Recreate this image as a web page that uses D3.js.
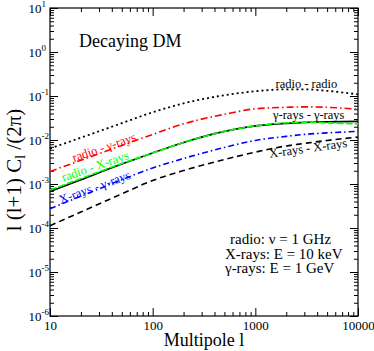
<!DOCTYPE html>
<html>
<head>
<meta charset="utf-8">
<script src="https://cdn.jsdelivr.net/npm/d3@7"></script>
<style>
body { margin: 0; background: #fff; }
svg { display: block; font-family: "Liberation Serif", "Times New Roman", serif; }
.axis path { display: none; }
.axis line { stroke: #000; }
</style>
</head>
<body>
<svg width="374" height="351"></svg>
<script>
// multipole values and the six cross-correlation spectra, l(l+1)C_l/(2pi)
var multipoles = [10, 20, 50, 100, 200, 500, 1000, 2000, 3000, 5000, 10000];
var radioRadio = [6.4e-3, 1.13e-2, 2.41e-2, 4.26e-2, 6.8e-2, 0.104, 0.128, 0.142, 0.142, 0.131, 0.109];
var radioGamma = [1.92e-3, 3.46e-3, 7.5e-3, 1.34e-2, 2.33e-2, 3.83e-2, 5.12e-2, 5.53e-2, 5.67e-2, 5.53e-2, 4.98e-2];
var gammaGamma = [6.73e-4, 1.25e-3, 2.83e-3, 5.07e-3, 8.8e-3, 1.57e-2, 2.09e-2, 2.39e-2, 2.52e-2, 2.58e-2, 2.65e-2];
var radioXray  = [7.28e-4, 1.33e-3, 2.92e-3, 5.07e-3, 8.8e-3, 1.57e-2, 2.09e-2, 2.45e-2, 2.52e-2, 2.45e-2, 2.33e-2];
var xrayGamma  = [2.75e-4, 5.28e-4, 1.25e-3, 2.31e-3, 3.8e-3, 6.78e-3, 9.77e-3, 1.21e-2, 1.34e-2, 1.45e-2, 1.57e-2];
var xrayXray   = [1.13e-4, 2.31e-4, 5.96e-4, 1.2e-3, 2.02e-3, 3.6e-3, 5.3e-3, 7.33e-3, 8.35e-3, 9.77e-3, 1.16e-2];

var xMajor = [10, 100, 1000, 10000];
var yExponents = [-6, -5, -4, -3, -2, -1, 0, 1];
var legendLines = ["radio: \u03bd = 1 GHz", "X-rays: E = 10 keV", "\u03b3-rays: E = 1 GeV"];

var svg = d3.select("svg"),
    margin = {top: 8, right: 16, bottom: 35, left: 50},
    width = 308,
    height = 308,
    g = svg.append("g").attr("transform", "translate(" + margin.left + "," + margin.top + ")");

var x = d3.scaleLog().domain([10, 10000]).range([0, width]),
    y = d3.scaleLog().domain([1e-6, 10]).range([height, 0]);

var yMajor = yExponents.map(function(e) { return Math.pow(10, e); });
var xMinor = [], yMinor = [];
[10, 100, 1000].forEach(function(d) { for (var k = 2; k < 10; k++) xMinor.push(d * k); });
yExponents.slice(0, -1).forEach(function(e) { for (var k = 2; k < 10; k++) yMinor.push(k * Math.pow(10, e)); });

var series = [
  {id: "rr", values: radioRadio, color: "#000", dash: "2,3", width: 1.8},
  {id: "rg", values: radioGamma, color: "#ff0000", dash: "7,3,1.5,3", width: 1.6},
  {id: "gg", values: gammaGamma, color: "#000", dash: null, width: 1.6},
  {id: "rx", values: radioXray, color: "#00ff00", dash: "7,2", width: 1.6},
  {id: "xg", values: xrayGamma, color: "#0000ff", dash: "6,3,1.5,3", width: 1.6},
  {id: "xx", values: xrayXray, color: "#000", dash: "6,4", width: 1.6}
];

// ticks on all four sides, pointing inward
function addAxis(axis, tx, ty) {
  g.append("g").attr("class", "axis")
    .attr("transform", "translate(" + tx + "," + ty + ")")
    .call(axis);
}
addAxis(d3.axisBottom(x).tickValues(xMinor).tickSize(-4).tickFormat(""), 0, height);
addAxis(d3.axisTop(x).tickValues(xMinor).tickSize(-4).tickFormat(""), 0, 0);
addAxis(d3.axisTop(x).tickValues(xMajor).tickSize(-8).tickFormat(""), 0, 0);
addAxis(d3.axisLeft(y).tickValues(yMinor).tickSize(-4).tickFormat(""), 0, 0);
addAxis(d3.axisRight(y).tickValues(yMinor).tickSize(-4).tickFormat(""), width, 0);
addAxis(d3.axisRight(y).tickValues(yMajor).tickSize(-8).tickFormat(""), width, 0);
addAxis(d3.axisLeft(y).tickValues(yMajor).tickSize(-8).tickFormat(""), 0, 0);

g.append("g").attr("class", "axis")
  .attr("transform", "translate(0," + height + ")")
  .call(d3.axisBottom(x).tickValues(xMajor).tickSize(-8).tickPadding(5).tickFormat(d3.format("d")))
  .selectAll("text")
  .attr("fill", "#000")
  .style("font-family", "Liberation Serif, serif")
  .style("font-size", "13px");

// y labels as 10 with superscript exponent
var ylab = g.append("g").selectAll("text").data(yExponents).enter().append("text")
  .attr("x", -21.5)
  .attr("y", function(e) { return y(Math.pow(10, e)) + 5; })
  .style("font-size", "13px");
ylab.append("tspan").text("10");
ylab.append("tspan").attr("dy", -6).style("font-size", "9px").text(function(e) { return e; });

g.append("rect")
  .attr("width", width).attr("height", height)
  .attr("fill", "none").attr("stroke", "#000").attr("stroke-width", 1.2);

var line = d3.line()
  .curve(d3.curveMonotoneX)
  .x(function(d) { return x(d[0]); })
  .y(function(d) { return y(d[1]); });

g.selectAll(".curve").data(series).enter().append("path")
  .attr("class", "curve")
  .attr("fill", "none")
  .attr("stroke", function(d) { return d.color; })
  .attr("stroke-width", function(d) { return d.width; })
  .attr("stroke-dasharray", function(d) { return d.dash; })
  .attr("d", function(d) { return line(multipoles.map(function(l, i) { return [l, d.values[i]]; })); });

// curve labels
function label(txt, cx, cy, angle, color, anchor) {
  svg.append("text")
    .attr("transform", "translate(" + cx + "," + cy + ") rotate(" + angle + ")")
    .attr("text-anchor", anchor || "middle")
    .attr("dy", anchor ? 0 : "0.35em")
    .attr("fill", color)
    .style("font-size", "12.5px")
    .text(txt);
}
label("radio - \u03b3-rays", 104, 147, -19, "#ff0000");
label("radio - X-rays", 95, 166, -19, "#00ff00");
label("X-rays - \u03b3-rays", 94.5, 187, -20, "#0000ff");
label("radio - radio", 275.5, 88, 0, "#000", "start");
label("\u03b3-rays - \u03b3-rays", 273, 119, 0, "#000", "start");
label("X-rays - X-rays", 308, 148, -8, "#000");

svg.append("text").attr("x", 79).attr("y", 47).style("font-size", "18px").text("Decaying DM");

svg.selectAll(".legend").data(legendLines).enter().append("text")
  .attr("class", "legend")
  .attr("x", function(d, i) { return i === 0 ? 230 : 225; })
  .attr("y", function(d, i) { return 244 + i * 14.5; })
  .style("font-size", "15px")
  .text(function(d) { return d; });

svg.append("text")
  .attr("x", margin.left + width / 2).attr("y", 346)
  .attr("text-anchor", "middle")
  .style("font-size", "18px")
  .text("Multipole l");

var yt = svg.append("text")
  .attr("transform", "translate(21,170) rotate(-90)")
  .attr("text-anchor", "middle")
  .style("font-size", "21px");
yt.append("tspan").text("l (l+1) C");
yt.append("tspan").attr("dy", 4).style("font-size", "14px").text("l");
yt.append("tspan").attr("dy", -4).text(" /(2\u03c0)");
</script>
</body>
</html>
